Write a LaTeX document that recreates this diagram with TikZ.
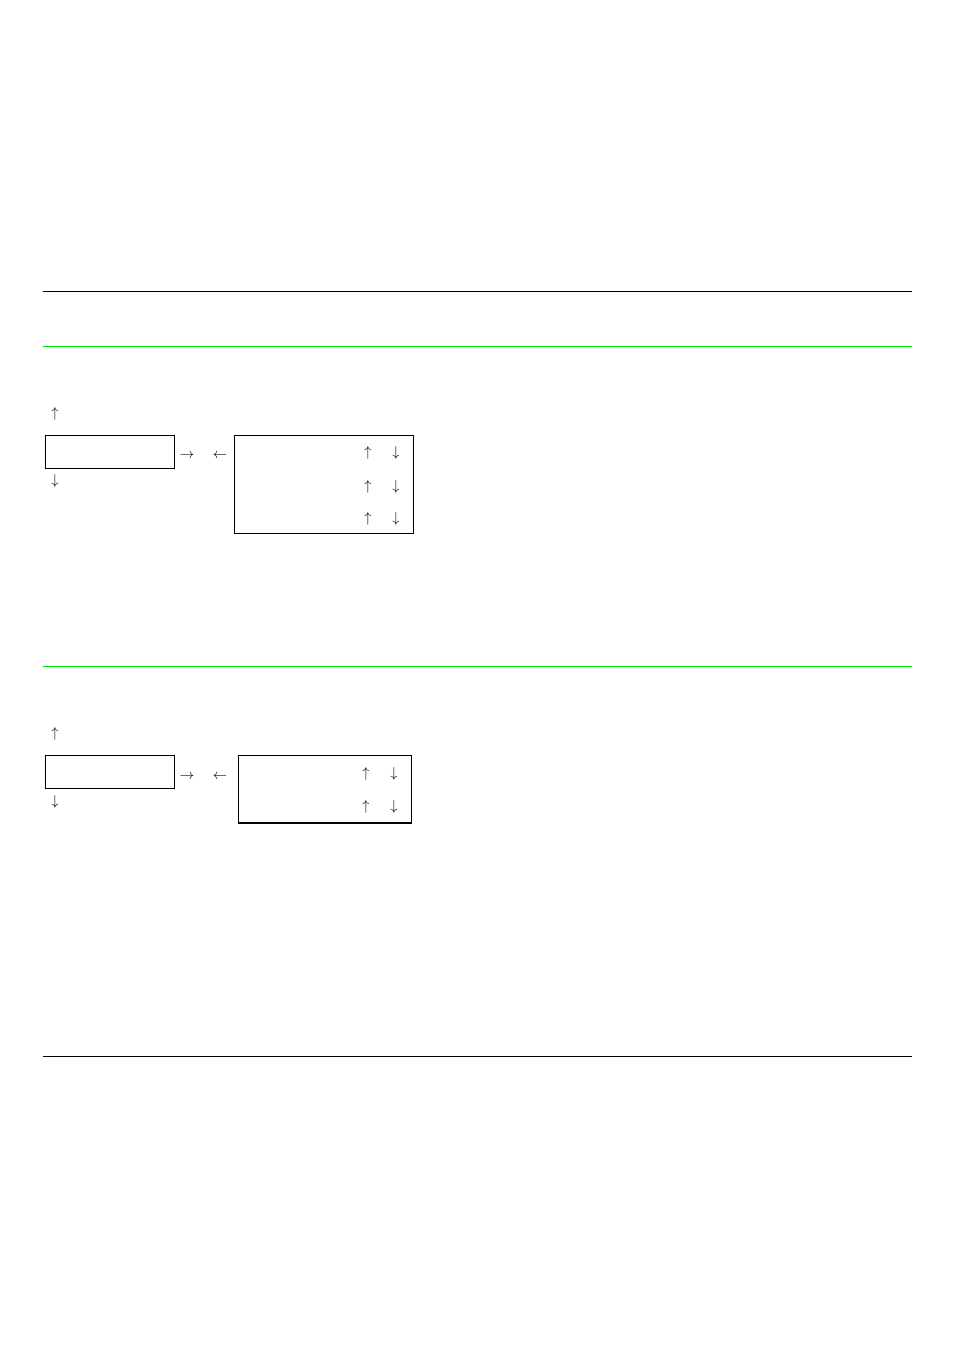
\documentclass[tikz,border=0pt]{standalone}
\definecolor{rulegreen}{RGB}{0,230,0}
\begin{document}
\begin{tikzpicture}[x=1pt,y=-1pt,
  rulebk/.style={line width=1pt,black},
  rulegr/.style={line width=1pt,rulegreen},
  box/.style={draw,line width=0.9pt,inner sep=0pt,anchor=north west},
  glyph/.style={inner sep=0pt,font=\fontsize{14.5}{16}\selectfont}]
\useasboundingbox (0,0) rectangle (954,1351);
\fill[white] (0,0) rectangle (954,1351);
% rules
\draw[rulebk] (43,291) -- (912,291);
\draw[rulegr] (43,346.5) -- (912,346.5);
\draw[rulegr] (43,666.5) -- (912,666.5);
\draw[rulebk] (43,1056) -- (912,1056);
% diagram 1
\node[box,minimum width=129pt,minimum height=33pt] (a1) at (45,435) {};
\node[box,minimum width=179pt,minimum height=98pt] (b1) at (234,435) {};
\node[glyph] (a1u) at (55,414) {$\uparrow$};
\node[glyph] (a1d) at (55,481) {$\downarrow$};
\node[glyph] (a1r) at (187,456) {$\rightarrow$};
\node[glyph] (a1l) at (220,456) {$\leftarrow$};
\node[glyph] (b1u1) at (368,453) {$\uparrow$};
\node[glyph] (b1d1) at (396,453) {$\downarrow$};
\node[glyph] (b1u2) at (368,487) {$\uparrow$};
\node[glyph] (b1d2) at (396,487) {$\downarrow$};
\node[glyph] (b1u3) at (368,519) {$\uparrow$};
\node[glyph] (b1d3) at (396,519) {$\downarrow$};
% diagram 2
\node[box,minimum width=129pt,minimum height=33pt] (a2) at (45,755) {};
\node[box,minimum width=173pt,minimum height=67pt] (b2) at (238,755) {};
\draw[line width=2pt] (b2.south west) -- (b2.south east);
\node[glyph] (a2u) at (55,734) {$\uparrow$};
\node[glyph] (a2d) at (55,802) {$\downarrow$};
\node[glyph] (a2r) at (187,777) {$\rightarrow$};
\node[glyph] (a2l) at (220,777) {$\leftarrow$};
\node[glyph] (b2u1) at (366,774) {$\uparrow$};
\node[glyph] (b2d1) at (394,774) {$\downarrow$};
\node[glyph] (b2u2) at (366,807) {$\uparrow$};
\node[glyph] (b2d2) at (394,807) {$\downarrow$};
\end{tikzpicture}
\end{document}
